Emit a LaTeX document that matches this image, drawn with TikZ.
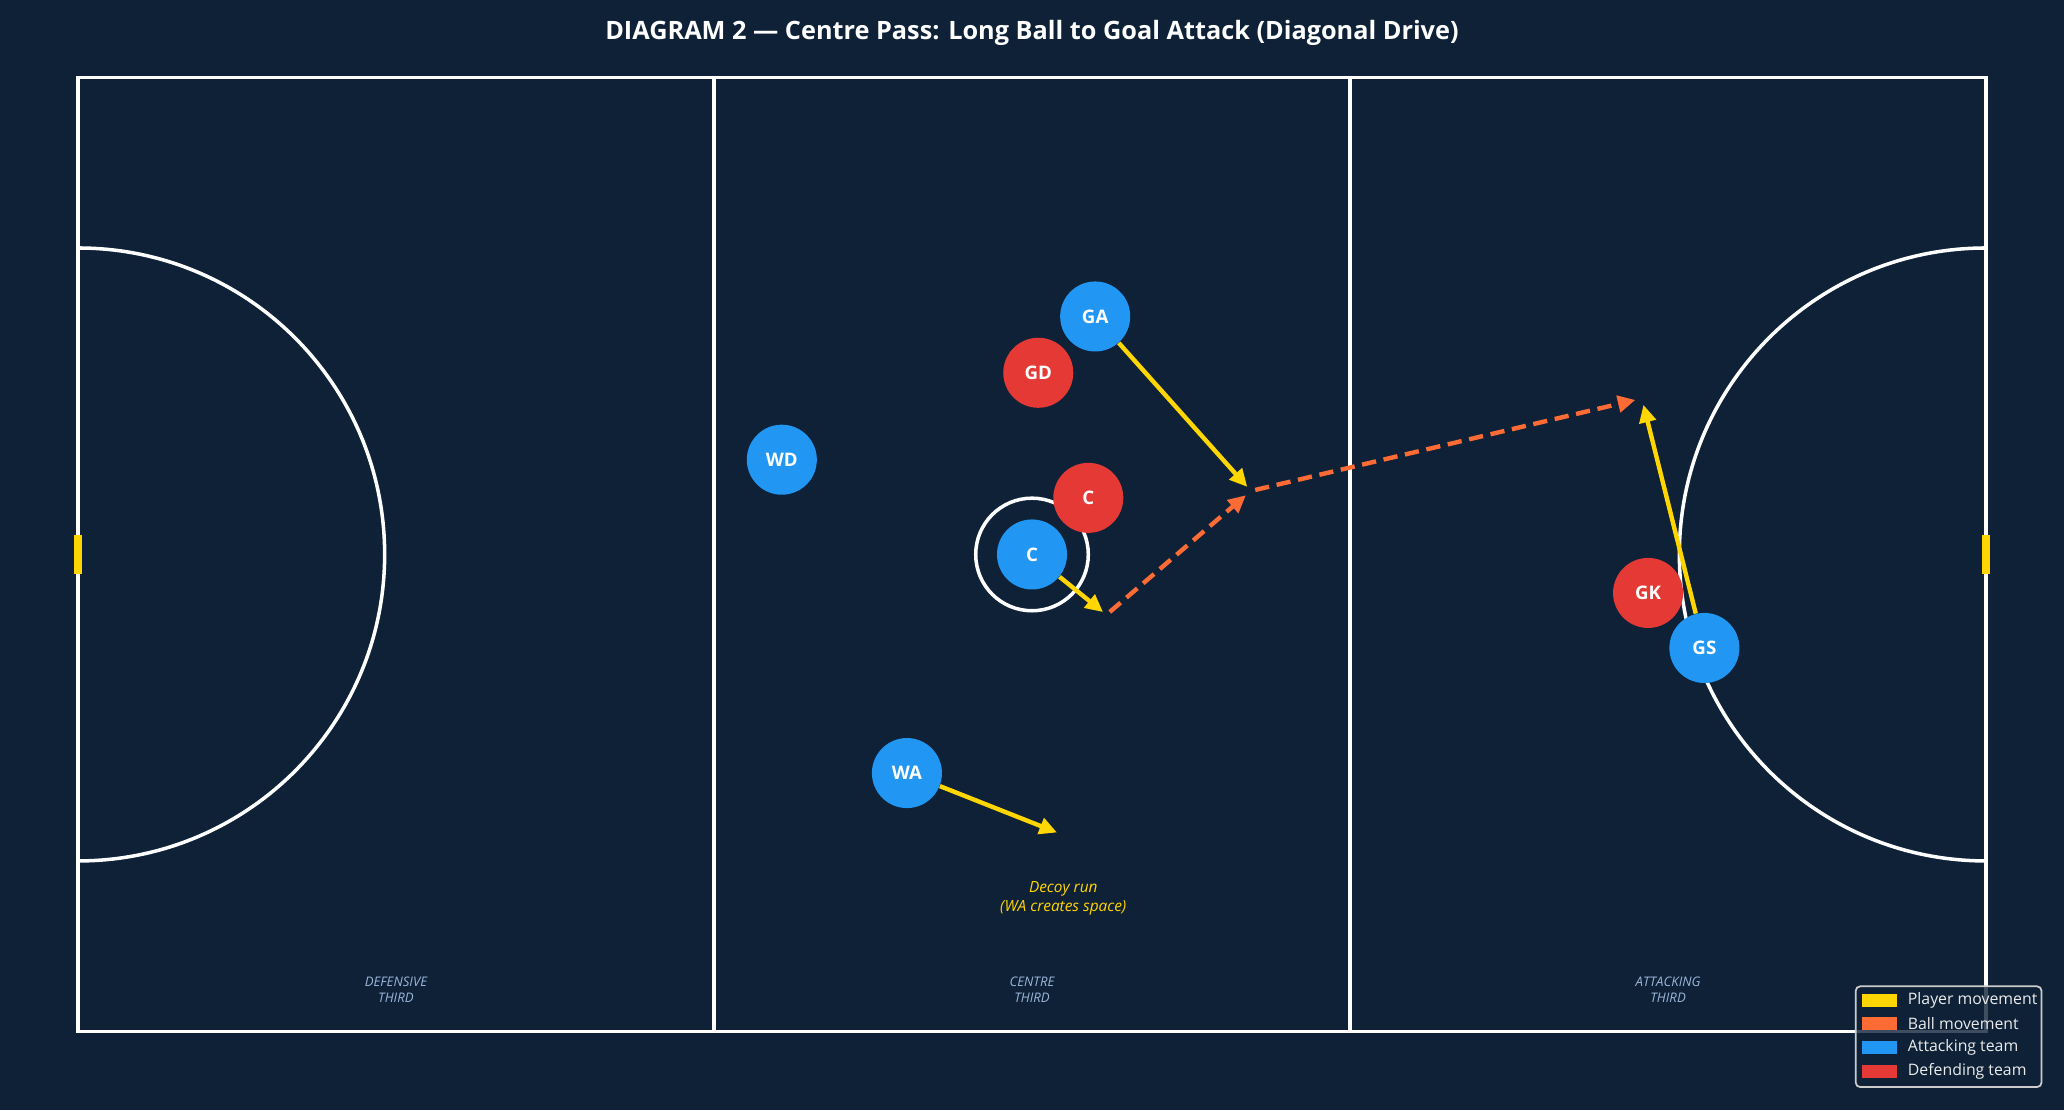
\documentclass[tikz,border=0pt]{standalone}
\usepackage{fontspec}
\setmainfont{Open Sans}
\usetikzlibrary{positioning}
\usetikzlibrary{arrows.meta}
\definecolor{courtbg}{HTML}{0E2137}
\definecolor{attblue}{HTML}{2196F3}
\definecolor{defred}{HTML}{E53935}
\definecolor{moveyellow}{HTML}{FFD600}
\definecolor{ballorange}{HTML}{FF6B35}
\definecolor{thirdtext}{HTML}{9AB6DA}
\tikzstyle{attacker}=[circle,fill=attblue,minimum size=1.12cm,inner sep=0pt,text=white,font=\fontsize{8.5}{10}\selectfont\bfseries]
\tikzstyle{defender}=[attacker,fill=defred]
\tikzstyle{courtline}=[white,line width=1.6pt]
\tikzstyle{goalpost}=[moveyellow,line width=3.6pt]
\tikzstyle{playermove}=[-{Triangle[length=8pt,width=7.5pt]},moveyellow,line width=2pt]
\tikzstyle{ballmove}=[playermove,ballorange,dash pattern=on 6.5pt off 3.5pt]
\tikzstyle{thirdlabel}=[text=thirdtext,align=center,font=\fontsize{6}{7.2}\selectfont\itshape]
\tikzstyle{decoylabel}=[text=moveyellow,align=center,font=\fontsize{7}{8.4}\selectfont\itshape]
\tikzstyle{legendpatch}=[rectangle,minimum width=0.55cm,minimum height=0.21cm,inner sep=0pt]
\tikzstyle{legendtext}=[text=white!92!black,inner sep=0pt,font=\fontsize{7.2}{8.6}\selectfont]

\begin{document}
\begin{tikzpicture}

\useasboundingbox (-1.25,-1.26) rectangle (31.75,16.49);
\fill[courtbg] (-1.25,-1.26) rectangle (31.75,16.49);

\node[text=white,font=\fontsize{11.5}{13.8}\selectfont\bfseries] (title) at (15.25,15.97)
    {DIAGRAM 2 --- Centre Pass: Long Ball to Goal Attack (Diagonal Drive)};

%Court
\draw[courtline] (0,0) rectangle (30.5,15.25);
\draw[courtline] (30.5/3,0) -- (30.5/3,15.25);
\draw[courtline] (61/3,0) -- (61/3,15.25);
\draw[courtline] (0,12.525) arc (90:-90:4.9);
\draw[courtline] (30.5,12.525) arc (90:270:4.9);
\draw[courtline] (15.25,7.625) circle (0.9);
\draw[goalpost] (0,7.32) -- (0,7.93);
\draw[goalpost] (30.5,7.32) -- (30.5,7.93);

\foreach \pos/\label in {{(5.08,0.66)/DEFENSIVE}, {(15.25,0.66)/CENTRE}, {(25.42,0.66)/ATTACKING}}
    \node[thirdlabel] at \pos {\label\\THIRD};

%Players
\foreach \pos/\name/\label in {{(16.26,11.43)/ga/GA}, {(11.25,9.14)/wd/WD}, {(15.25,7.625)/ca/C}, {(13.25,4.13)/wa/WA}, {(26.0,6.13)/gs/GS}}
    \node[attacker] (\name) at \pos {\label};
\foreach \pos/\name/\label in {{(15.35,10.53)/gd/GD}, {(16.15,8.53)/cd/C}, {(25.1,7.01)/gk/GK}}
    \node[defender] (\name) at \pos {\label};

%Runs and passes
\coordinate (crun) at (16.44,6.66);
\coordinate (garun) at (18.75,8.64);
\coordinate (gsrun) at (25.0,10.12);
\coordinate (warun) at (15.65,3.18);

\draw[playermove, shorten >=2pt] (ca) -- (crun);
\draw[playermove, shorten >=2.5pt] (ga) -- (garun);
\draw[playermove, shorten >=3pt] (gs) -- (gsrun);
\draw[playermove] (wa) -- (warun);
\draw[ballmove, shorten <=2pt, shorten >=3pt] (crun) -- (garun);
\draw[ballmove, shorten <=2pt, shorten >=3pt] (garun) -- (gsrun);

\node[decoylabel] (decoy) at (15.75,2.13) {Decoy run\\(WA creates space)};

%Legend
\draw[gray!40, line width=0.8pt, rounded corners=2pt, fill=courtbg, fill opacity=0.8] (28.42,-0.89) rectangle (31.39,0.72);
\foreach \y/\col/\name/\txt in {0.496/moveyellow/lplayer/Player movement, 0.123/ballorange/lball/Ball movement, -0.251/attblue/latt/Attacking team, -0.64/defred/ldef/Defending team}{
    \node[legendpatch, fill=\col] (\name) at (28.8,\y) {};
    \node[legendtext, right=0.165 of \name] {\txt};
}

\end{tikzpicture}
\end{document}
